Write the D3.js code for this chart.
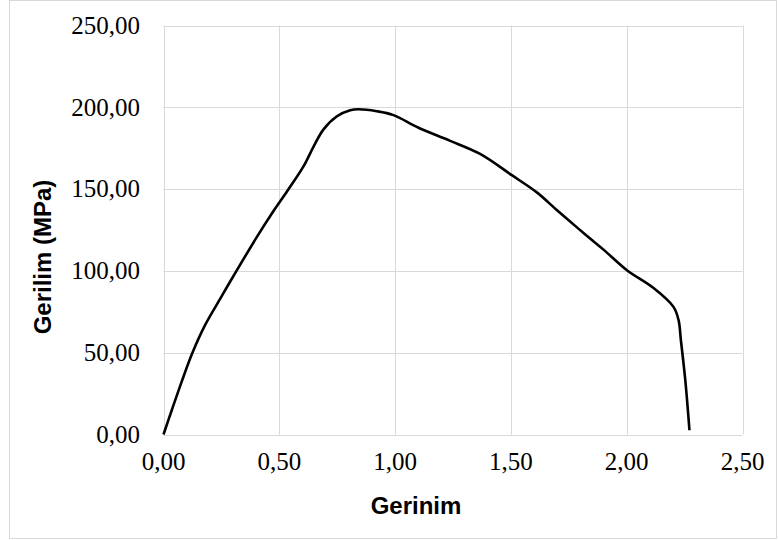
<!DOCTYPE html>
<html>
<head>
<meta charset="utf-8">
<script src="https://cdn.jsdelivr.net/npm/d3@7"></script>
<style>
  body { margin: 0; background: #fff; }
  .grid line { stroke: #d9d9d9; stroke-width: 1; }
  .tick-label { font-family: "Liberation Serif", "Times New Roman", serif; font-size: 25px; fill: #000; }
  .axis-title { font-family: "Liberation Sans", Arial, sans-serif; font-size: 24px; font-weight: bold; fill: #000; }
</style>
</head>
<body>
<div id="chart"></div>
<script>
// strain (Gerinim) and stress (Gerilim, MPa)
var strain = [0, 0.036, 0.079, 0.125, 0.180, 0.245, 0.288, 0.40, 0.47, 0.533, 0.605, 0.648, 0.691,
              0.749, 0.806, 0.842, 0.921, 0.993, 1.101, 1.238, 1.367, 1.504, 1.612, 1.699,
              1.79, 1.842, 1.90, 2.001, 2.116, 2.202, 2.224, 2.234, 2.253, 2.271];
var stress = [0, 15, 32.5, 50, 67, 83, 93.5, 120, 135.5, 148.5, 164, 176, 186.5,
              194.5, 198.2, 198.8, 197.6, 195.2, 187.5, 179.5, 171.5, 158.5, 148, 137.1,
              126, 119.8, 113, 100.4, 89.5, 78, 69.9, 57.6, 33.2, 2.6];
var xTicks = [0, 0.5, 1, 1.5, 2, 2.5];
var yTicks = [0, 50, 100, 150, 200, 250];
var xTitle = 'Gerinim';
var yTitle = 'Gerilim (MPa)';

var width = 779, height = 540;
var plot = { left: 163.5, right: 742.5, top: 25.5, bottom: 434.5 };

var fmt = function(v) { return v.toFixed(2).replace('.', ','); };

var svg = d3.select('#chart').append('svg')
    .attr('width', width)
    .attr('height', height);

// outer frame
svg.append('rect')
    .attr('x', 9.5).attr('y', 0.5)
    .attr('width', 767).attr('height', 538)
    .attr('fill', '#fff')
    .attr('stroke', '#d9d9d9');

var x = d3.scaleLinear().domain([0, 2.5]).range([plot.left, plot.right]);
var y = d3.scaleLinear().domain([0, 250]).range([plot.bottom, plot.top]);

// gridlines
var grid = svg.append('g').classed('grid', true);
grid.selectAll('line.h')
    .data(yTicks)
    .enter().append('line')
    .attr('x1', plot.left).attr('x2', plot.right)
    .attr('y1', function(d) { return Math.round(y(d)) + 0.5; })
    .attr('y2', function(d) { return Math.round(y(d)) + 0.5; });
grid.selectAll('line.v')
    .data(xTicks)
    .enter().append('line')
    .attr('y1', plot.top).attr('y2', plot.bottom)
    .attr('x1', function(d) { return Math.round(x(d)) + 0.5; })
    .attr('x2', function(d) { return Math.round(x(d)) + 0.5; });

// tick labels
svg.selectAll('text.ylab')
    .data(yTicks)
    .enter().append('text')
    .classed('tick-label', true)
    .attr('x', 140)
    .attr('y', function(d) { return y(d); })
    .attr('dy', '0.33em')
    .attr('text-anchor', 'end')
    .text(fmt);

svg.selectAll('text.xlab')
    .data(xTicks)
    .enter().append('text')
    .classed('tick-label', true)
    .attr('x', function(d) { return x(d); })
    .attr('y', 470)
    .attr('text-anchor', 'middle')
    .text(fmt);

// axis titles
svg.append('text')
    .classed('axis-title', true)
    .attr('x', 416)
    .attr('y', 514)
    .attr('text-anchor', 'middle')
    .text(xTitle);

svg.append('text')
    .classed('axis-title', true)
    .attr('transform', 'translate(51,' + 257 + ') rotate(-90)')
    .attr('text-anchor', 'middle')
    .text(yTitle);

// curve
var line = d3.line()
    .x(function(d) { return x(d[0]); })
    .y(function(d) { return y(d[1]); })
    .curve(d3.curveCatmullRom.alpha(0.5));

svg.append('path')
    .datum(d3.zip(strain, stress))
    .attr('fill', 'none')
    .attr('stroke', '#000')
    .attr('stroke-width', 2.6)
    .attr('stroke-linejoin', 'round')
    .attr('d', line);
</script>
</body>
</html>
